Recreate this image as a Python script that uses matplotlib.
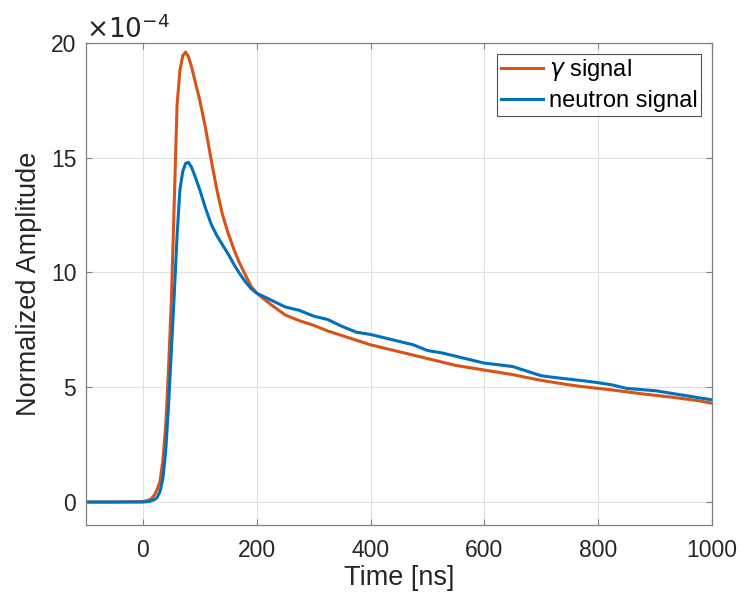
import numpy as np
import matplotlib.pyplot as plt

# time axis [ns] and amplitudes in units of 1e-4
t_gamma = [-100, -50, 0, 10, 15, 20, 25, 30, 35, 40, 45, 50, 55, 60, 65, 70, 75,
           80, 85, 90, 100, 110, 120, 130, 140, 150, 160, 170, 180, 190, 200,
           225, 250, 275, 300, 325, 350, 375, 400, 425, 450, 475, 500, 525, 550,
           575, 600, 625, 650, 675, 700, 725, 750, 775, 800, 825, 850, 875, 900,
           925, 950, 975, 1000]
gamma = [0.0, 0.0, 0.02, 0.08, 0.15, 0.3, 0.55, 0.9, 1.8, 3.3, 5.8, 8.8, 13.0,
         17.3, 18.8, 19.45, 19.6, 19.4, 19.0, 18.5, 17.5, 16.3, 14.9, 13.6, 12.5,
         11.7, 11.0, 10.4, 9.9, 9.4, 9.1, 8.6, 8.15, 7.9, 7.7, 7.45, 7.25, 7.05,
         6.85, 6.7, 6.55, 6.4, 6.25, 6.1, 5.95, 5.85, 5.75, 5.65, 5.55, 5.42,
         5.3, 5.2, 5.1, 5.02, 4.95, 4.88, 4.8, 4.72, 4.65, 4.58, 4.5, 4.42, 4.3]

t_neutron = [-100, -50, 0, 10, 20, 25, 30, 35, 40, 45, 50, 55, 60, 65, 70, 75, 80,
             85, 90, 100, 110, 120, 130, 140, 150, 160, 170, 180, 190, 200, 225,
             250, 275, 300, 325, 350, 375, 400, 425, 450, 475, 500, 525, 550, 575,
             600, 625, 650, 675, 700, 725, 750, 775, 800, 825, 850, 875, 900, 925,
             950, 975, 1000]
neutron = [0.0, 0.0, 0.0, 0.02, 0.1, 0.2, 0.45, 1.0, 2.2, 4.2, 6.6, 9.0, 11.6,
           13.6, 14.4, 14.75, 14.8, 14.6, 14.3, 13.6, 12.8, 12.1, 11.6, 11.2,
           10.8, 10.35, 9.95, 9.6, 9.3, 9.1, 8.8, 8.5, 8.35, 8.1, 7.95, 7.65,
           7.4, 7.3, 7.15, 7.0, 6.85, 6.6, 6.5, 6.35, 6.2, 6.05, 5.98, 5.9, 5.7,
           5.5, 5.42, 5.35, 5.28, 5.2, 5.1, 4.95, 4.9, 4.85, 4.75, 4.65, 4.55, 4.45]

xticks = [0, 200, 400, 600, 800, 1000]
yticks = [0, 5, 10, 15, 20]

plt.rcParams['font.family'] = ['Liberation Sans', 'DejaVu Sans']
txt = '#262626'

fig = plt.figure(figsize=(7.44, 6.01), dpi=100)
ax = fig.add_axes([0.1156, 0.1265, 0.8414, 0.802])

ax.plot(t_gamma, gamma, color='#D95319', lw=2.2, label=r'$\gamma$ signal')
ax.plot(t_neutron, neutron, color='#0072BD', lw=2.2, label='neutron signal')

ax.set_xlim(-100, 1000)
ax.set_ylim(-1, 20)
ax.set_xticks(xticks)
ax.set_yticks(yticks)
ax.grid(True, color='#e0e0e0', lw=0.8)
ax.tick_params(direction='in', top=True, right=True, length=4, color='#808080',
               labelsize=16.5, labelcolor=txt)
ax.tick_params(axis='x', pad=10)
ax.tick_params(axis='y', pad=7)
for s in ax.spines.values():
    s.set_color('#808080')
    s.set_linewidth(0.9)

ax.set_xlabel('Time [ns]', fontsize=19.5, color=txt, labelpad=2)
ax.set_ylabel('Normalized Amplitude', fontsize=19.5, color=txt, labelpad=6)
ax.text(0.0, 1.0, r'$\times10^{-4}$', transform=ax.transAxes, fontsize=19,
        color=txt, va='bottom', ha='left')

leg = ax.legend(loc='upper right', fontsize=17, frameon=True, fancybox=False,
                handlelength=1.8, handletextpad=0.25, borderpad=0.15,
                labelspacing=0.3, borderaxespad=0.45)
leg.get_frame().set_edgecolor('#262626')
leg.get_frame().set_linewidth(0.8)

fig.savefig('out.png', dpi=100)
